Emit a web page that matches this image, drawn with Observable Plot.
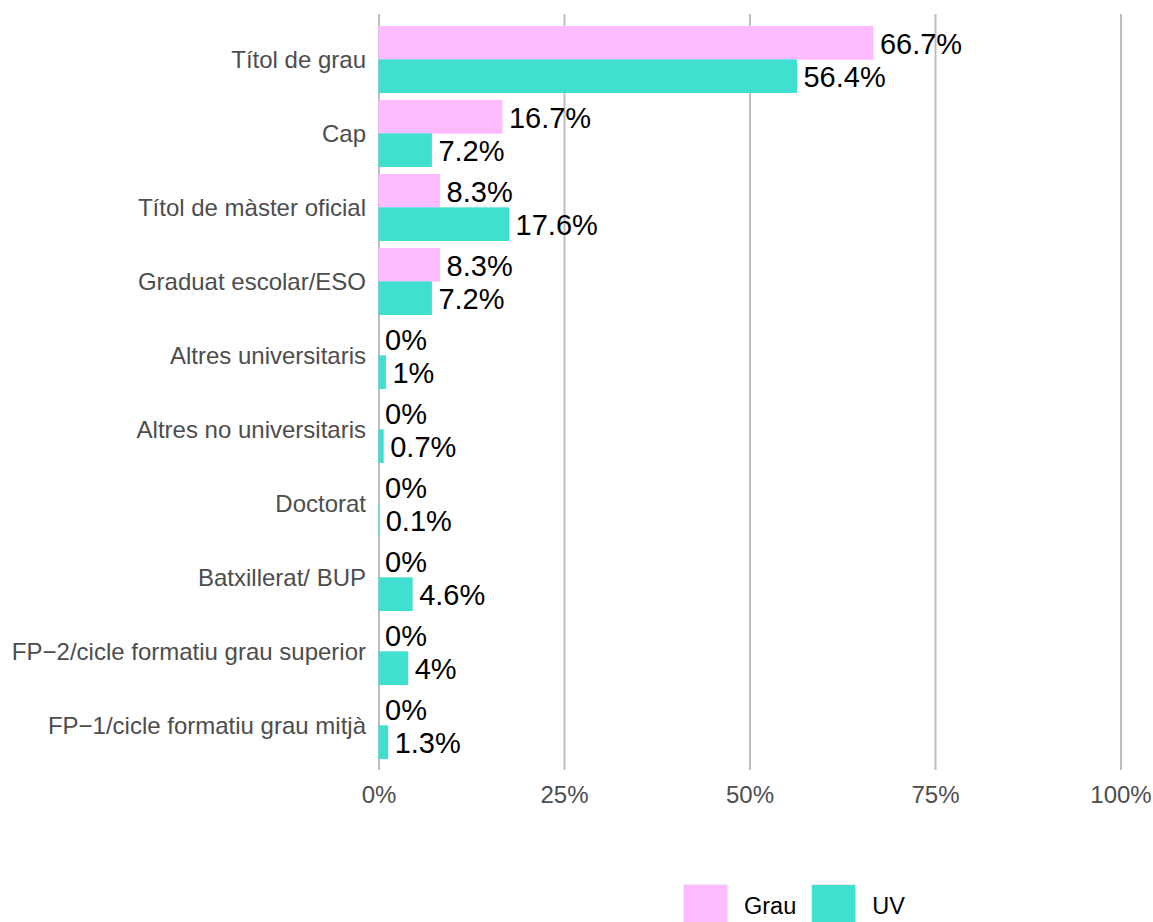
<!DOCTYPE html>
<html>
<head>
<meta charset="utf-8">
<script src="https://cdn.jsdelivr.net/npm/d3@7"></script>
<script src="https://cdn.jsdelivr.net/npm/@observablehq/plot@0.6"></script>
<style>
  html, body { margin: 0; padding: 0; background: white; overflow: hidden; }
  #chart svg { display: block; }
  .legend { display: flex; align-items: center; margin-top: 24px; padding-left: 683px;
            font-family: 'Liberation Sans', Arial, sans-serif; font-size: 23.5px; color: black; }
  .sw { width: 45px; height: 45px; box-sizing: border-box; border: 1px solid #ebebeb; }
  .lab { margin-left: 16px; margin-right: 15px; }
</style>
</head>
<body>
<div id="chart"></div>
<script>
const categories = [
  "Títol de grau",
  "Cap",
  "Títol de màster oficial",
  "Graduat escolar/ESO",
  "Altres universitaris",
  "Altres no universitaris",
  "Doctorat",
  "Batxillerat/ BUP",
  "FP−2/cicle formatiu grau superior",
  "FP−1/cicle formatiu grau mitjà"
];
const series = ["Grau", "UV"];
const grauValues = [66.7, 16.7, 8.3, 8.3, 0, 0, 0, 0, 0, 0];
const uvValues = [56.4, 7.2, 17.6, 7.2, 1, 0.7, 0.1, 4.6, 4, 1.3];
const xTicks = [0, 25, 50, 75, 100];
const colors = ["#FFBBFF", "#40E0D0"];

const rows = [];
categories.forEach((c, i) => {
  rows.push({category: c, series: "Grau", value: grauValues[i]});
  rows.push({category: c, series: "UV", value: uvValues[i]});
});
const fmt = v => `${+v.toFixed(1)}%`;

const width = 1153, height = 860;
const marginTop = 14, marginBottom = 90;
const pIn = 0.1, pOut = 0.15;
const step = (height - marginTop - marginBottom) / (categories.length - pIn + 2 * pOut);
const half = step * (1 - pIn) / 2;

const grau = rows.filter(d => d.series === "Grau");
const uv = rows.filter(d => d.series === "UV");

const plot = Plot.plot({
  width, height,
  marginLeft: 378.5, marginRight: 32.5, marginTop, marginBottom,
  style: {fontFamily: "'Liberation Sans', Arial, sans-serif", fontSize: "24px", color: "#4d4d4d", background: "white"},
  x: {domain: [0, 100], ticks: xTicks, tickFormat: d => d + "%", tickSize: 0, tickPadding: 15, label: null},
  y: {domain: categories, paddingInner: pIn, paddingOuter: pOut, tickSize: 0, tickPadding: 13, label: null},
  marks: [
    Plot.ruleX(xTicks, {stroke: "#bebebe", strokeWidth: 2}),
    Plot.barX(grau, {x: "value", y: "category", fill: colors[0], insetBottom: half}),
    Plot.barX(uv, {x: "value", y: "category", fill: colors[1], insetTop: half}),
    Plot.text(grau, {x: "value", y: "category", text: d => fmt(d.value), dy: -half / 2 + 1, dx: 6, textAnchor: "start", fill: "black", fontSize: 29}),
    Plot.text(uv, {x: "value", y: "category", text: d => fmt(d.value), dy: half / 2 + 1, dx: 6, textAnchor: "start", fill: "black", fontSize: 29})
  ]
});
document.getElementById("chart").appendChild(plot);

const legend = document.createElement("div");
legend.className = "legend";
series.forEach((s, i) => {
  const sw = document.createElement("div");
  sw.className = "sw";
  sw.style.background = colors[i];
  const lab = document.createElement("span");
  lab.className = "lab";
  lab.textContent = s;
  legend.appendChild(sw);
  legend.appendChild(lab);
});
document.body.appendChild(legend);
</script>
</body>
</html>
